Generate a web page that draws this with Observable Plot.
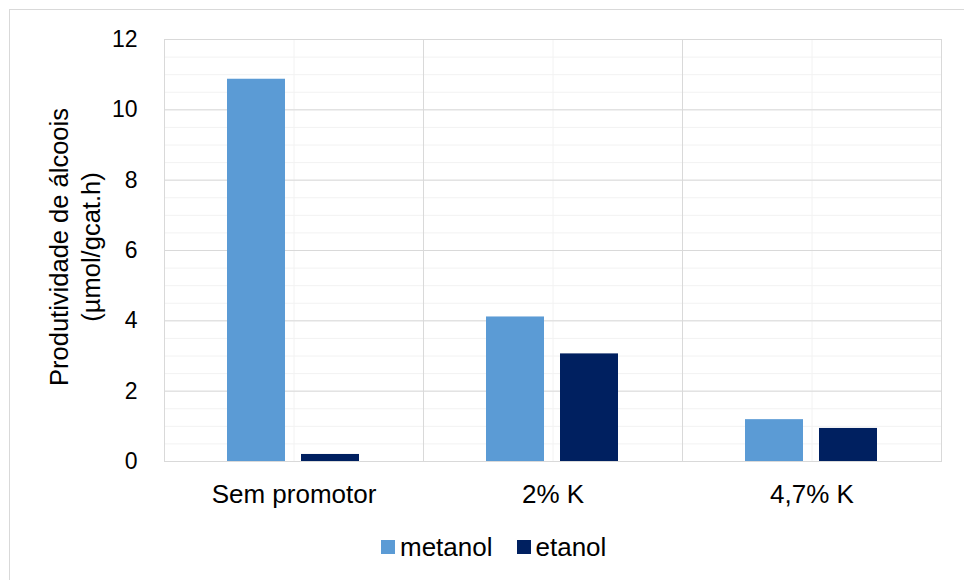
<!DOCTYPE html>
<html>
<head>
<meta charset="utf-8">
<script src="https://cdn.jsdelivr.net/npm/d3@7"></script>
<script src="https://cdn.jsdelivr.net/npm/@observablehq/plot@0.6"></script>
<style>
  body { margin: 0; background: #fff; }
  #wrap { position: relative; width: 964px; height: 580px; overflow: hidden; background: #fff;
          font-family: "Liberation Sans", Arial, sans-serif; color: #000; }
  #border { position: absolute; left: 9px; top: 9px; width: 1200px; height: 1200px; border: 1px solid #d9d9d9; }
  #chart { position: absolute; left: 0; top: 0; }
  #ylabel { position: absolute; left: 75px; top: 247px; transform: translate(-50%, -50%) rotate(-90deg);
            text-align: center; white-space: nowrap; font-size: 25.5px; line-height: 32px; }
  #legend { position: absolute; left: 381px; top: 530px; height: 34px; display: flex; align-items: center;
            font-size: 26px; }
  .sw { width: 14px; height: 14px; margin-right: 5px; }
  .item { display: flex; align-items: center; margin-right: 24px; }
</style>
</head>
<body>
<div id="wrap">
  <div id="border"></div>
  <div id="chart"></div>
  <div id="ylabel">Produtividade de álcoois<br>(µmol/gcat.h)</div>
  <div id="legend"></div>
</div>
<script>
const categories = ["Sem promotor", "2% K", "4,7% K"];
const series = ["metanol", "etanol"];
const metanol = [10.87, 4.11, 1.19];
const etanol = [0.2, 3.06, 0.94];
const colors = ["#5B9BD5", "#002060"];
const yTicks = [0, 2, 4, 6, 8, 10, 12];
const yMinorTicks = d3.range(0, 12.01, 0.5);

const data = categories.flatMap((c, i) => [
  {cat: c, series: "metanol", value: metanol[i]},
  {cat: c, series: "etanol", value: etanol[i]}
]);

const chart = Plot.plot({
  width: 964,
  height: 520,
  marginLeft: 164,
  marginRight: 23,
  marginTop: 39,
  marginBottom: 59,
  fx: {domain: categories, padding: 0},
  x: {domain: series, paddingInner: 0.216, paddingOuter: 0.856, axis: null},
  y: {domain: [0, 12]},
  color: {domain: series, range: colors},
  style: {fontFamily: "'Liberation Sans', Arial, sans-serif", color: "#000", background: "transparent", overflow: "visible"},
  marks: [
    Plot.ruleY(yMinorTicks, {stroke: "#f2f2f2", strokeWidth: 1}),
    Plot.gridFx({stroke: "#f2f2f2", strokeOpacity: 1, strokeWidth: 1}),
    Plot.ruleY(yTicks, {stroke: "#d9d9d9", strokeWidth: 1}),
    Plot.frame({anchor: "left", stroke: "#d9d9d9"}),
    Plot.frame({anchor: "right", stroke: "#d9d9d9"}),
    Plot.barY(data, {fx: "cat", x: "series", y: "value", fill: "series"}),
    Plot.axisY({ticks: yTicks, tickSize: 0, tickPadding: 27, fontSize: 23, label: null, tickFormat: d => String(d)}),
    Plot.axisFx({anchor: "bottom", tickSize: 0, tickPadding: 23, fontSize: 26, label: null})
  ]
});
document.getElementById("chart").appendChild(chart);

const legend = document.getElementById("legend");
series.forEach((s, i) => {
  const item = document.createElement("div");
  item.className = "item";
  const sw = document.createElement("div");
  sw.className = "sw";
  sw.style.background = colors[i];
  const t = document.createElement("span");
  t.textContent = s;
  item.appendChild(sw);
  item.appendChild(t);
  legend.appendChild(item);
});
</script>
</body>
</html>
